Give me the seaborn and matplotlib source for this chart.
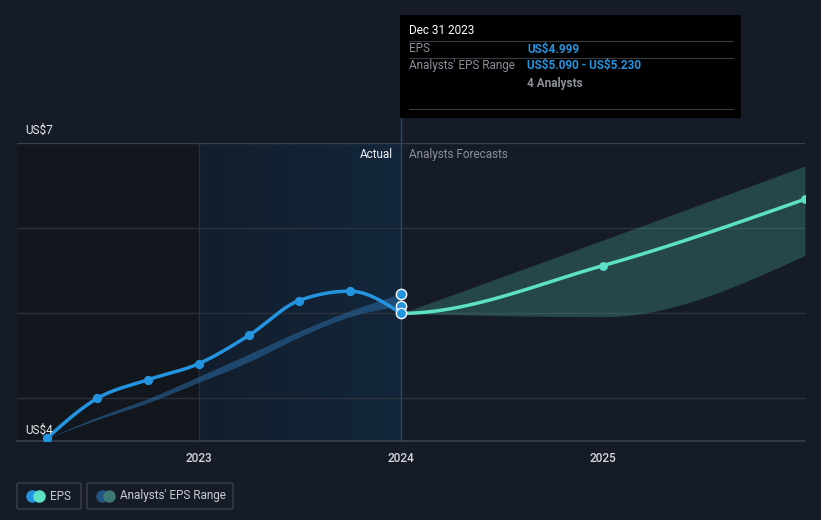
import numpy as np
import pandas as pd
import matplotlib
matplotlib.use("Agg")
import matplotlib.pyplot as plt
from matplotlib.patches import Rectangle, FancyBboxPatch
from matplotlib.lines import Line2D
import seaborn as sns

# ---------------- data ----------------
actual_dates = ["2022-03-31", "2022-06-30", "2022-09-30", "2022-12-31",
                "2023-03-31", "2023-06-30", "2023-09-30", "2023-12-31"]
eps_actual = [3.53, 4.00, 4.22, 4.41, 4.74, 5.15, 5.26, 4.999]
range_low_past = [3.53, 3.75, 3.95, 4.19, 4.43, 4.72, 4.96, 5.09]
range_high_past = [3.53, 3.78, 4.00, 4.26, 4.52, 4.79, 5.03, 5.23]

forecast_dates = ["2023-12-31", "2024-12-31", "2025-12-31"]
eps_forecast = [4.999, 5.56, 6.34]
range_low_fc = [4.999, 4.96, 5.68]
range_high_fc = [4.999, 5.86, 6.73]

year_ticks = [2023, 2024, 2025]
year_labels = ["2023", "2024", "2025"]
y_labels = ["US$7", "US$4"]

# ---------------- style ----------------
BG = "#161c27"
DARK = "#12161d"
BLUE = "#2394df"
TEAL = "#5ce1c6"
GRID = "#2a313c"
FONT = ["Roboto", "DejaVu Sans"]

sns.set_theme(style="dark")
plt.rcParams["font.family"] = FONT
plt.rcParams["text.parse_math"] = False


def to_year(dates):
    d = pd.to_datetime(pd.Series(dates))
    days = np.where(d.dt.is_leap_year, 366, 365)
    return (d.dt.year + d.dt.dayofyear / days).to_numpy(dtype=float)


def monotone(x, y, n=60, flat_start=False):
    x = np.asarray(x, float)
    y = np.asarray(y, float)
    h = np.diff(x)
    s = np.diff(y) / h
    m = np.zeros_like(y)
    for i in range(1, len(y) - 1):
        p = (s[i - 1] * h[i] + s[i] * h[i - 1]) / (h[i - 1] + h[i])
        m[i] = (np.sign(s[i - 1]) + np.sign(s[i])) * min(abs(s[i - 1]), abs(s[i]), 0.5 * abs(p))
    m[0] = (3 * s[0] - m[1]) / 2 if len(y) > 2 else s[0]
    m[-1] = (3 * s[-1] - m[-2]) / 2 if len(y) > 2 else s[-1]
    if flat_start:
        m[0] = 0.0
    xs, ys = [], []
    for i in range(len(h)):
        t = np.linspace(0, 1, n)
        h00 = 2 * t**3 - 3 * t**2 + 1
        h10 = t**3 - 2 * t**2 + t
        h01 = -2 * t**3 + 3 * t**2
        h11 = t**3 - t**2
        xs.append(x[i] + t * h[i])
        ys.append(h00 * y[i] + h10 * h[i] * m[i] + h01 * y[i + 1] + h11 * h[i] * m[i + 1])
    return np.concatenate(xs), np.concatenate(ys)


xa = to_year(actual_dates)
xf = to_year(forecast_dates)

W, H = 821, 520
fig = plt.figure(figsize=(W / 100, H / 100), dpi=100, facecolor=BG)

x0p, x1p, ytop_p, ybot_p = 17, 805, 143, 441
ax = fig.add_axes([x0p / W, (H - ybot_p) / H, (x1p - x0p) / W, (ybot_p - ytop_p) / H])
ax.set_facecolor(BG)
XMIN, XMAX = 2023 - 182 / 202, 2023 + 606 / 202
YMIN, YMAX = 3.5, 7.0
for sp in ax.spines.values():
    sp.set_visible(False)
ax.grid(False)

# background regions
ax.add_patch(Rectangle((XMIN, YMIN), 2023 - XMIN, YMAX - YMIN, color=DARK, zorder=0, lw=0))
grad = np.linspace(0, 1, 256).reshape(1, -1)
c0 = np.array(matplotlib.colors.to_rgb("#121e2c"))
c1 = np.array(matplotlib.colors.to_rgb("#13263b"))
img = c0[None, None, :] * (1 - grad[..., None]) + c1[None, None, :] * grad[..., None]
ax.imshow(img, extent=[2023, 2024, YMIN, YMAX], aspect="auto", zorder=0.5, interpolation="bilinear")
ax.set_xlim(XMIN, XMAX)
ax.set_ylim(YMIN, YMAX)

# gridlines
for yv in [4, 5, 6]:
    ax.axhline(yv, color=GRID, lw=1, zorder=1)
ax.axhline(7, color="#3a414c", lw=1, zorder=1)
ax.axhline(YMIN, color="#3a414c", lw=1.2, zorder=1, clip_on=False)
ax.axvline(2023, color="#26303c", lw=1, zorder=1)
ax.plot([2024, 2024], [YMIN, 7 + 25 / 85], color="#1f4a6c", lw=1, zorder=1, clip_on=False)

# past analyst range band
bx, bl = monotone(xa, range_low_past)
_, bh = monotone(xa, range_high_past)
ax.fill_between(bx, bl, bh, color="#2a6aa3", alpha=0.55, lw=0, zorder=2)

# forecast range band
fx, fl = monotone(xf, range_low_fc)
_, fh = monotone(xf, range_high_fc)
ax.fill_between(fx, fl, fh, color=TEAL, alpha=0.22, lw=0, zorder=2)

# EPS actual line
lx, ly = monotone(xa, eps_actual)
sns.lineplot(x=lx, y=ly, ax=ax, color=BLUE, lw=2.5, zorder=4, sort=False)
sns.scatterplot(x=xa[:-1], y=eps_actual[:-1], ax=ax, color=BLUE, s=45, linewidth=0, zorder=5)

# EPS forecast line
gx, gy = monotone(xf, eps_forecast, flat_start=True)
sns.lineplot(x=gx, y=gy, ax=ax, color=TEAL, lw=2.5, zorder=4, sort=False)
sns.scatterplot(x=xf[1:], y=eps_forecast[1:], ax=ax, color=TEAL, s=40, linewidth=0, zorder=5)

# highlighted points at Dec 31 2023
hl_vals = [range_high_past[-1], range_low_past[-1], eps_actual[-1]]
sns.scatterplot(x=[xa[-1]] * 3, y=hl_vals, ax=ax, color=BLUE, s=55,
                edgecolor="white", linewidth=1.0, zorder=6)

# ticks
ax.set_xticks(year_ticks)
ax.set_xticklabels(year_labels, color="#d6d8dc", fontsize=8.5, fontweight="medium")
ax.tick_params(axis="x", colors="#3a414c", length=4, width=1, pad=4, labelcolor="#d6d8dc")
ax.set_yticks([])
ax.set_xlabel("")
ax.set_ylabel("")

# annotations
fig.text(25 / W, 1 - 130 / H, y_labels[0], color="#e6e8ea", fontsize=8.5, va="center", ha="left")
fig.text(25 / W, 1 - 430 / H, y_labels[1], color="#e6e8ea", fontsize=8.5, va="center", ha="left")
fig.text(393 / W, 1 - 154 / H, "Actual", color="#f0f2f4", fontsize=8.5, va="center", ha="right")
fig.text(409 / W, 1 - 154 / H, "Analysts Forecasts", color="#8a8f98", fontsize=8.5, va="center", ha="left")

# tooltip
tx0, ty0, tx1, ty1 = 400, 15, 741, 118
fig.patches.append(Rectangle((tx0 / W, 1 - ty1 / H), (tx1 - tx0) / W, (ty1 - ty0) / H,
                             transform=fig.transFigure, facecolor="#000000", edgecolor="none", zorder=10))
for yy in [41, 58, 109]:
    fig.lines.append(Line2D([409 / W, 733 / W], [1 - yy / H, 1 - yy / H], transform=fig.transFigure,
                            color="#3a3d42", lw=0.8, zorder=11))
fig.text(409 / W, 1 - 31 / H, "Dec 31 2023", color="white", fontsize=8.5, va="center", zorder=12)
fig.text(409 / W, 1 - 49 / H, "EPS", color="#8a8f98", fontsize=8.5, va="center", zorder=12)
fig.text(527 / W, 1 - 49 / H, "US$4.999", color=BLUE, fontsize=8.5, fontweight="bold", va="center", zorder=12)
fig.text(409 / W, 1 - 66 / H, "Analysts' EPS Range", color="#8a8f98", fontsize=8.5, va="center", zorder=12)
fig.text(527 / W, 1 - 66 / H, "US$5.090 - US$5.230", color=BLUE, fontsize=8.5, fontweight="bold",
         va="center", zorder=12)
fig.text(527 / W, 1 - 83 / H, "4 Analysts", color="#8a8f98", fontsize=8.5, fontweight="bold",
         va="center", zorder=12)

# legend boxes
def legend_box(x0, x1, label, c_left, c_right):
    y0, y1 = 483, 509
    fig.patches.append(FancyBboxPatch((x0 / W, 1 - y1 / H), (x1 - x0) / W, (y1 - y0) / H,
                                      boxstyle="round,pad=0,rounding_size=0.003",
                                      transform=fig.transFigure, facecolor=BG,
                                      edgecolor="#3a3f48", lw=1, zorder=10))
    cy = 1 - 496 / H
    fig.lines.append(Line2D([(x0 + 15) / W], [cy], transform=fig.transFigure, marker="o",
                            markersize=8, color=c_left, lw=0, zorder=11))
    fig.lines.append(Line2D([(x0 + 22) / W], [cy], transform=fig.transFigure, marker="o",
                            markersize=8, color=c_right, lw=0, zorder=12))
    fig.text((x0 + 33) / W, cy, label, color="#c8cbd0", fontsize=8.5, va="center", ha="left", zorder=12)

legend_box(17, 81, "EPS", BLUE, TEAL)
legend_box(87, 233, "Analysts' EPS Range", "#1f5580", "#3c7a72")

fig.savefig("out.png", dpi=100, facecolor=BG)
